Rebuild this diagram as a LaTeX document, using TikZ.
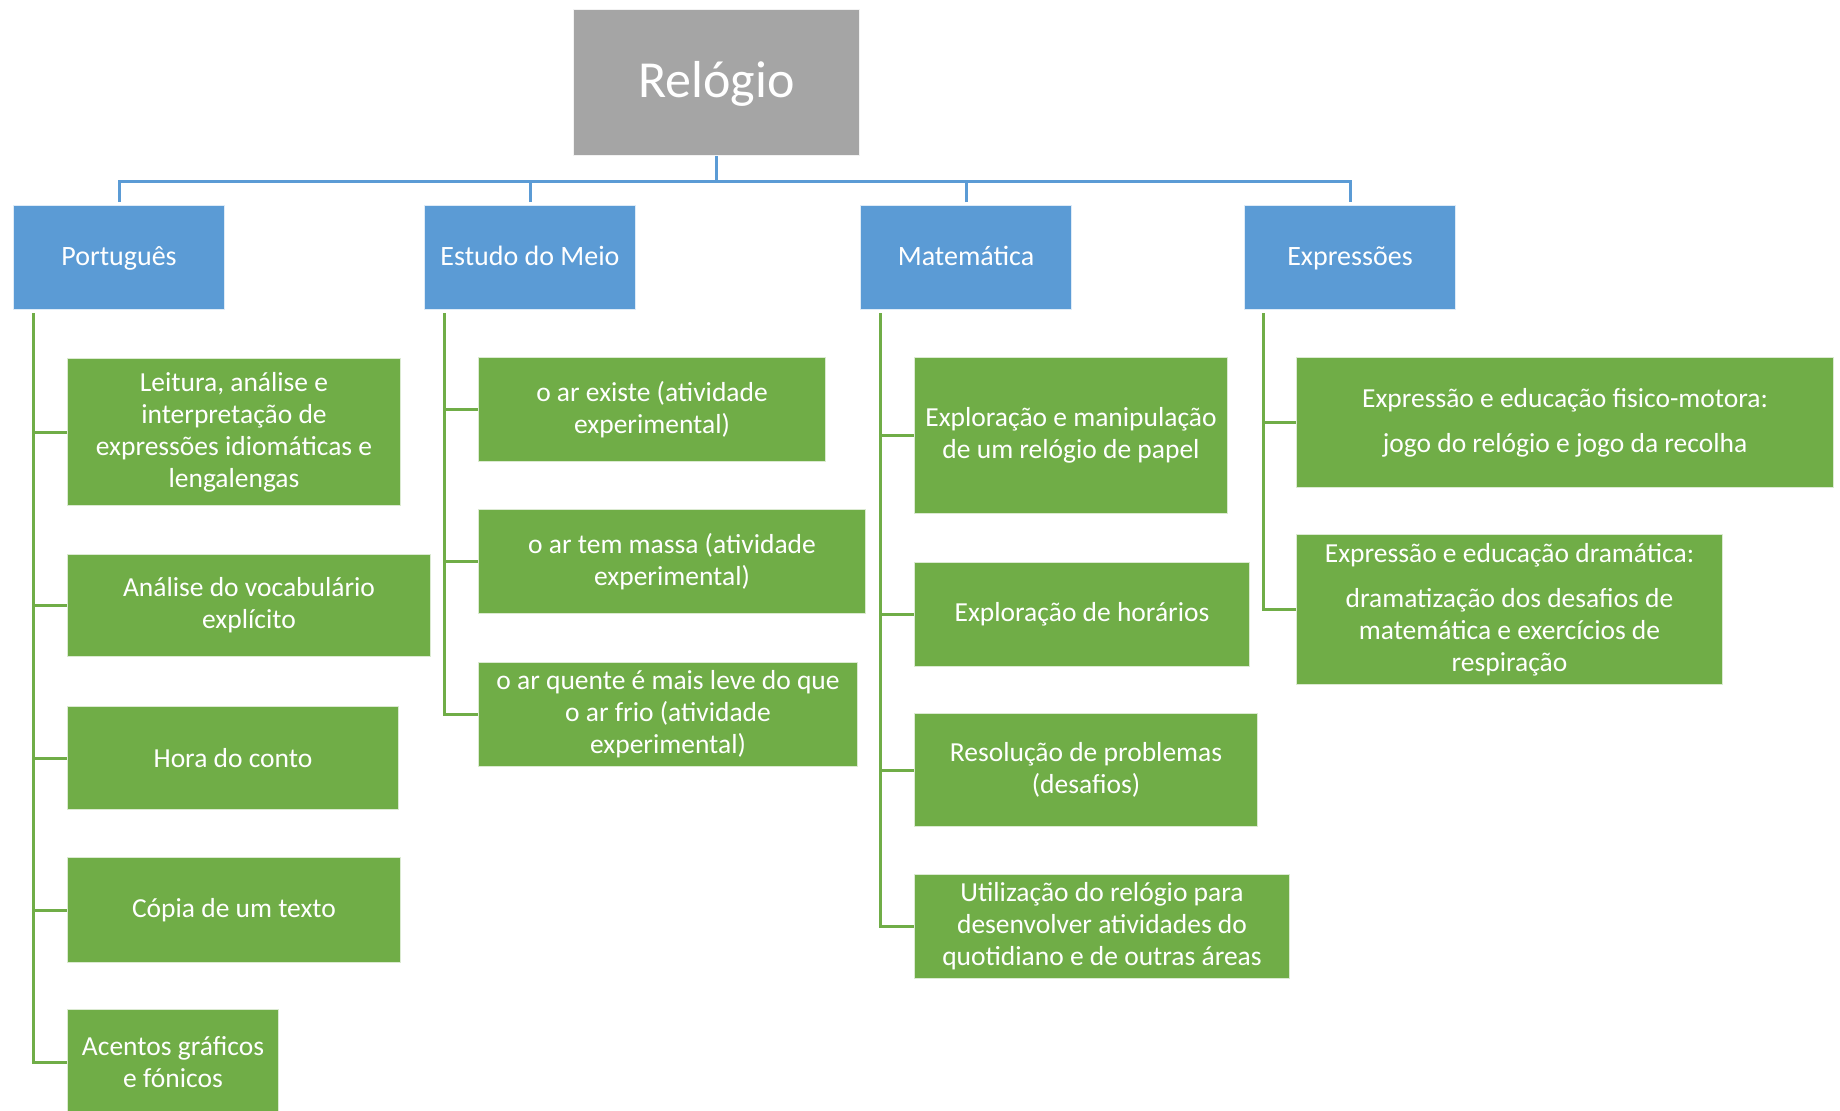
\documentclass[tikz,border=0pt]{standalone}
\usepackage{fontspec}
\setmainfont{Carlito}
\usepackage{tikz}
\usetikzlibrary{positioning,calc}
\definecolor{HeadGray}{HTML}{A5A5A5}
\definecolor{AreaBlue}{HTML}{5B9BD5}
\definecolor{LeafGreen}{HTML}{70AD47}
\tikzset{
  topbox/.style={draw=white!85!HeadGray, line width=1pt, fill=HeadGray, anchor=north west, text=white, align=center, inner sep=2pt, text height=41pt, text depth=11pt, font=\fontsize{52}{60}\selectfont},
  areabox/.style={draw=white!80!AreaBlue, line width=1pt, fill=AreaBlue, anchor=north west, text=white, align=center, inner sep=2pt, minimum width=211pt, minimum height=104pt, text height=22pt, text depth=6pt, font=\fontsize{28}{32}\selectfont},
  leafbox/.style={draw=white!75!LeafGreen, line width=1pt, fill=LeafGreen, anchor=north west, text=white, align=center, inner sep=2pt, font=\fontsize{27.5}{32}\selectfont},
  treelink/.style={draw=AreaBlue, line width=3pt},
  branchlink/.style={draw=LeafGreen, line width=3pt}
}
\begin{document}
\begin{tikzpicture}[x=1pt, y=-1pt]
  \useasboundingbox (0,0) rectangle (1840,1111);
  % top of the tree
  \node[topbox, minimum width=286pt, minimum height=146pt] (relogio) at (573,9) {Relógio};
  \node[areabox] (portugues) at (13,205) {Português};
  \node[areabox] (meio) at (424,205) {Estudo do Meio};
  \node[areabox] (matematica) at (860,205) {Matemática};
  \node[areabox] (expressoes) at (1244,205) {Expressões};
  \coordinate (bar) at ($(relogio.south)+(0,25)$);
  \draw[treelink] (relogio.south) -- (bar);
  \draw[treelink, shorten <=3pt] (portugues.north) |- (bar) -| ([yshift=3pt]expressoes.north);
  \draw[treelink, shorten <=3pt] (meio.north) -- (meio.north |- bar);
  \draw[treelink, shorten <=3pt] (matematica.north) -- (matematica.north |- bar);
  % Português
  \node[leafbox, minimum width=333pt, minimum height=147pt] (leitura) at (67,358) {Leitura, análise e\\interpretação de\\expressões idiomáticas e\\lengalengas};
  \node[leafbox, minimum width=363pt, minimum height=102pt] (vocabulario) at (67,554) {Análise do vocabulário\\explícito};
  \node[leafbox, minimum width=331pt, minimum height=103pt] (conto) at (67,706) {Hora do conto};
  \node[leafbox, minimum width=333pt, minimum height=105pt] (copia) at (67,857) {Cópia de um texto};
  \node[leafbox, minimum width=211pt, minimum height=106pt] (acentos) at (67,1009) {Acentos gráficos\\e fónicos};
  % Estudo do Meio
  \node[leafbox, minimum width=347pt, minimum height=104pt] (arexiste) at (478,357) {o ar existe (atividade\\experimental)};
  \node[leafbox, minimum width=387pt, minimum height=104pt] (armassa) at (478,509) {o ar tem massa (atividade\\experimental)};
  \node[leafbox, minimum width=379pt, minimum height=104pt] (arquente) at (478,662) {o ar quente é mais leve do que\\o ar frio (atividade\\experimental)};
  % Matemática
  \node[leafbox, minimum width=313pt, minimum height=156pt] (manipulacao) at (914,357) {Exploração e manipulação\\de um relógio de papel};
  \node[leafbox, minimum width=335pt, minimum height=104pt] (horarios) at (914,562) {Exploração de horários};
  \node[leafbox, minimum width=343pt, minimum height=113pt] (problemas) at (914,713) {Resolução de problemas\\(desafios)};
  \node[leafbox, minimum width=375pt, minimum height=104pt] (utilizacao) at (914,874) {Utilização do relógio para\\desenvolver atividades do\\quotidiano e de outras áreas};
  % Expressões
  \node[leafbox, minimum width=537pt, minimum height=130pt] (motora) at (1296,357) {Expressão e educação fisico-motora:\\[13pt]jogo do relógio e jogo da recolha};
  \node[leafbox, minimum width=426pt, minimum height=150pt] (dramatica) at (1296,534) {Expressão e educação dramática:\\[13pt]dramatização dos desafios de\\matemática e exercícios de\\respiração};
  % branches
  \foreach \leaf in {leitura,vocabulario,conto,copia,acentos}
    \draw[branchlink] ([xshift=20pt,yshift=-3pt]portugues.south west) |- (\leaf.west);
  \foreach \leaf in {arexiste,armassa,arquente}
    \draw[branchlink] ([xshift=20pt,yshift=-3pt]meio.south west) |- (\leaf.west);
  \foreach \leaf in {manipulacao,horarios,problemas,utilizacao}
    \draw[branchlink] ([xshift=20pt,yshift=-3pt]matematica.south west) |- (\leaf.west);
  \foreach \leaf in {motora,dramatica}
    \draw[branchlink] ([xshift=19pt,yshift=-3pt]expressoes.south west) |- (\leaf.west);
\end{tikzpicture}
\end{document}
